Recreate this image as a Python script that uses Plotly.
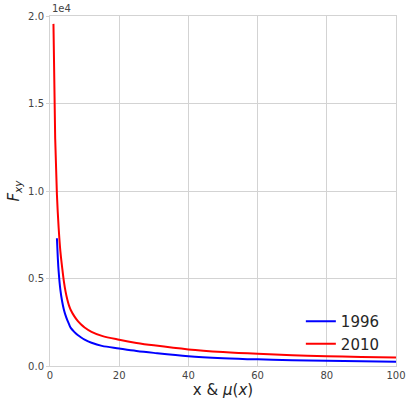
import plotly.graph_objects as go

# Curve samples for each year
x_2010 = [1, 1.5, 2, 2.5, 3, 3.5, 4, 4.5, 5, 5.5, 6, 7, 8, 9, 10, 12, 15, 20, 25, 30,
          40, 50, 60, 70, 80, 90, 100]
y_2010 = [19550, 13000, 9800, 7900, 6550, 5650, 4850, 4250, 3800, 3450, 3200, 2850, 2580,
          2370, 2200, 1950, 1720, 1500, 1320, 1180, 950, 800, 695, 620, 560, 515, 480]

x_1996 = [2, 2.25, 2.5, 3, 3.5, 4, 4.5, 5, 5.5, 6, 7, 8, 9, 10, 12, 15, 20, 25, 30,
          40, 50, 60, 70, 80, 90, 100]
y_1996 = [7300, 6200, 5400, 4350, 3700, 3230, 2890, 2620, 2390, 2180, 1950, 1770, 1630,
          1510, 1330, 1150, 1000, 860, 750, 560, 450, 380, 335, 305, 275, 250]

x_ticks = [0, 20, 40, 60, 80, 100]
y_ticks = [0, 5000, 10000, 15000, 20000]
y_tick_text = ["0.0", "0.5", "1.0", "1.5", "2.0"]

fig = go.Figure()
fig.add_trace(go.Scatter(x=x_1996, y=y_1996, mode="lines", name="1996",
                         line=dict(color="#0000ff", width=2, shape="spline", smoothing=1)))
fig.add_trace(go.Scatter(x=x_2010, y=y_2010, mode="lines", name="2010",
                         line=dict(color="#ff0000", width=2, shape="spline", smoothing=1)))

grid = "#d3d3d3"
font = "DejaVu Sans, sans-serif"

fig.update_layout(
    width=406, height=403,
    margin=dict(l=50, r=10, t=16, b=37),
    paper_bgcolor="white", plot_bgcolor="white",
    font=dict(family=font, size=10, color="#444444"),
    showlegend=True,
    legend=dict(x=0.725, y=0.096, xanchor="left", yanchor="middle",
                bgcolor="rgba(0,0,0,0)", font=dict(size=15, color="#262626"),
                tracegroupgap=0, itemwidth=30),
    xaxis=dict(range=[0, 100], tickvals=x_ticks, showgrid=True, gridcolor=grid, gridwidth=1,
               zeroline=False, showline=True, linecolor=grid, linewidth=1, mirror=True,
               ticks="", tickfont=dict(size=10), automargin=False,
               title=dict(text="x & <i>μ</i>(<i>x</i>)", font=dict(size=15, color="#262626"),
                          standoff=4)),
    yaxis=dict(range=[0, 20000], tickvals=y_ticks, ticktext=y_tick_text, showgrid=True,
               gridcolor=grid, gridwidth=1, zeroline=False, showline=True, linecolor=grid,
               linewidth=1, mirror=True, ticks="outside", ticklen=3, tickcolor=grid,
               tickfont=dict(size=10), automargin=False,
               title=dict(text="<i>F</i><sub><i>xy</i></sub>", font=dict(size=15, color="#262626"),
                          standoff=4)),
    annotations=[dict(text="1e4", x=0, y=1, xref="paper", yref="paper", xanchor="left",
                      yanchor="bottom", showarrow=False, font=dict(size=10, color="#444444"))],
)

fig.write_html("out.html")
